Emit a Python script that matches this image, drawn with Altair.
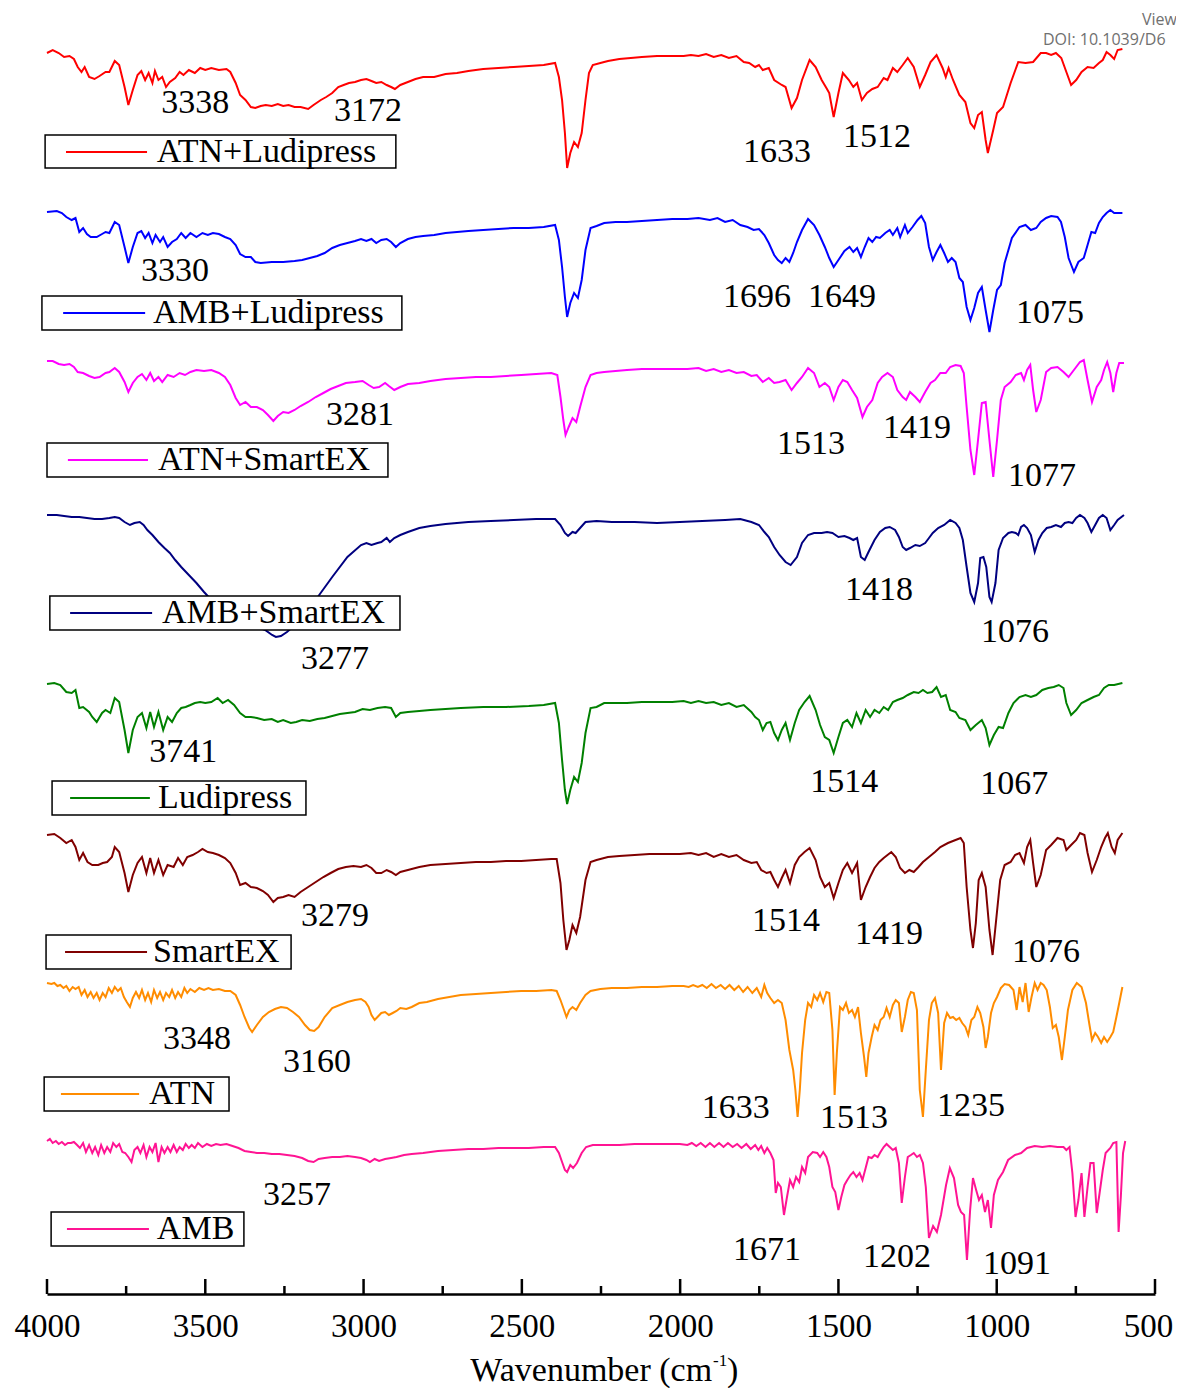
import altair as alt
import pandas as pd

# ---------------- data (wavenumber cm-1, stacked transmittance a.u.) ----------------
SERIES = ["ATN+Ludipress", "AMB+Ludipress", "ATN+SmartEX", "AMB+SmartEX",
          "Ludipress", "SmartEX", "ATN", "AMB"]
COLORS = ["#ff0000", "#0000ff", "#ff00ff", "#000080", "#008000", "#800000", "#ff8c00", "#ff1493"]

ATN_LUDI = [[4000,1241],[3982,1244],[3963,1241],[3946,1237],[3929,1238],[3915,1235],[3903,1227],[3891,1222],[3881,1227],[3867,1217],[3850,1215],[3834,1218],[3815,1222],[3803,1222],[3786,1233],[3772,1229],[3755,1207],[3743,1189],[3729,1204],[3714,1219],[3702,1223],[3690,1214],[3679,1221],[3667,1211],[3659,1223],[3648,1214],[3636,1217],[3624,1207],[3612,1212],[3595,1216],[3581,1222],[3569,1219],[3552,1224],[3533,1221],[3516,1226],[3500,1224],[3481,1226],[3457,1224],[3433,1225],[3421,1222],[3404,1211],[3390,1199],[3373,1194],[3356,1187],[3342,1186],[3325,1188],[3309,1189],[3290,1188],[3271,1190],[3254,1188],[3237,1189],[3218,1187],[3199,1187],[3175,1185],[3158,1189],[3135,1194],[3118,1197],[3099,1201],[3080,1207],[3063,1209],[3046,1211],[3027,1212],[3008,1214],[2991,1215],[2975,1213],[2960,1211],[2944,1212],[2927,1209],[2913,1207],[2901,1205],[2884,1209],[2860,1212],[2836,1215],[2812,1217],[2777,1217],[2741,1220],[2705,1221],[2669,1223],[2622,1225],[2574,1226],[2526,1227],[2478,1228],[2431,1229],[2395,1231],[2383,1217],[2373,1194],[2364,1161],[2357,1126],[2347,1141],[2335,1152],[2323,1147],[2311,1161],[2299,1194],[2288,1221],[2276,1229],[2252,1231],[2228,1233],[2192,1235],[2156,1236],[2121,1237],[2073,1238],[2025,1238],[1989,1238],[1966,1239],[1942,1238],[1918,1240],[1894,1237],[1870,1239],[1846,1236],[1822,1238],[1799,1232],[1782,1231],[1763,1227],[1751,1229],[1739,1224],[1720,1226],[1703,1214],[1679,1209],[1667,1207],[1648,1186],[1631,1196],[1615,1214],[1591,1234],[1572,1227],[1553,1214],[1538,1206],[1529,1201],[1515,1177],[1500,1201],[1486,1221],[1467,1214],[1453,1207],[1441,1211],[1426,1194],[1410,1201],[1393,1205],[1376,1207],[1357,1216],[1345,1214],[1328,1226],[1314,1222],[1297,1229],[1281,1236],[1262,1227],[1243,1207],[1226,1219],[1209,1232],[1190,1239],[1171,1226],[1161,1217],[1152,1226],[1138,1214],[1118,1199],[1099,1192],[1083,1171],[1071,1166],[1059,1179],[1047,1182],[1035,1154],[1028,1141],[1011,1164],[999,1181],[980,1187],[956,1211],[932,1232],[909,1231],[885,1232],[861,1241],[844,1241],[828,1239],[813,1241],[796,1236],[780,1222],[765,1209],[749,1214],[732,1222],[713,1227],[694,1226],[677,1231],[665,1234],[653,1242],[641,1239],[629,1235],[618,1244],[603,1245]]

AMB_LUDI = [[4000,1082],[3969,1083],[3953,1081],[3939,1077],[3922,1074],[3910,1076],[3898,1062],[3886,1066],[3874,1060],[3862,1057],[3843,1057],[3826,1060],[3815,1062],[3803,1061],[3786,1072],[3772,1069],[3755,1047],[3743,1031],[3729,1047],[3714,1061],[3702,1063],[3690,1056],[3679,1061],[3667,1051],[3657,1059],[3643,1052],[3633,1057],[3619,1047],[3605,1052],[3590,1055],[3576,1061],[3562,1056],[3547,1061],[3528,1057],[3509,1061],[3492,1059],[3476,1061],[3457,1060],[3438,1057],[3421,1055],[3404,1049],[3390,1040],[3373,1037],[3356,1037],[3342,1032],[3325,1031],[3290,1032],[3254,1032],[3218,1033],[3194,1034],[3170,1036],[3146,1038],[3123,1041],[3099,1046],[3075,1049],[3051,1051],[3027,1053],[3008,1055],[2991,1053],[2975,1055],[2960,1051],[2944,1054],[2927,1055],[2913,1052],[2898,1047],[2884,1051],[2860,1055],[2836,1057],[2812,1058],[2777,1059],[2741,1061],[2705,1062],[2669,1063],[2622,1064],[2574,1065],[2526,1066],[2478,1066],[2431,1067],[2395,1069],[2383,1054],[2373,1027],[2364,997],[2357,977],[2347,991],[2335,1001],[2323,996],[2311,1014],[2299,1044],[2283,1066],[2264,1068],[2240,1071],[2204,1072],[2168,1072],[2121,1073],[2073,1074],[2025,1075],[1977,1075],[1942,1076],[1906,1074],[1882,1076],[1858,1072],[1834,1074],[1810,1069],[1787,1067],[1768,1064],[1751,1065],[1734,1059],[1720,1051],[1703,1039],[1691,1034],[1679,1031],[1667,1036],[1655,1032],[1643,1041],[1631,1052],[1615,1064],[1596,1075],[1577,1069],[1560,1059],[1543,1047],[1529,1036],[1515,1027],[1500,1034],[1481,1043],[1465,1047],[1453,1042],[1441,1046],[1429,1037],[1417,1047],[1405,1056],[1393,1052],[1381,1057],[1369,1056],[1352,1061],[1338,1064],[1328,1059],[1314,1066],[1305,1057],[1290,1069],[1281,1061],[1266,1067],[1250,1074],[1238,1078],[1226,1071],[1214,1047],[1202,1034],[1190,1042],[1178,1049],[1166,1041],[1154,1032],[1142,1036],[1130,1032],[1118,1016],[1107,1012],[1095,987],[1083,974],[1071,986],[1059,1001],[1047,1007],[1035,984],[1023,962],[1011,984],[999,1004],[987,1009],[975,1031],[952,1056],[928,1067],[909,1069],[892,1064],[875,1066],[861,1072],[844,1076],[828,1078],[808,1077],[797,1072],[785,1057],[773,1036],[756,1022],[742,1032],[725,1036],[713,1049],[701,1062],[689,1061],[677,1071],[665,1077],[653,1081],[641,1084],[629,1081],[603,1081]]

ATN_SMART = [[4000,933],[3982,933],[3963,930],[3946,929],[3929,930],[3915,927],[3903,922],[3886,921],[3867,918],[3850,916],[3834,917],[3815,921],[3803,922],[3786,926],[3772,922],[3755,912],[3743,902],[3729,911],[3714,917],[3700,920],[3686,914],[3674,921],[3662,913],[3648,917],[3636,912],[3619,919],[3600,917],[3581,921],[3564,919],[3547,922],[3528,924],[3504,923],[3481,924],[3457,921],[3438,917],[3421,909],[3404,896],[3390,889],[3373,892],[3356,887],[3337,887],[3318,884],[3302,879],[3285,873],[3271,878],[3254,882],[3237,881],[3218,884],[3199,888],[3175,892],[3151,897],[3127,901],[3104,905],[3080,908],[3056,911],[3027,912],[3003,913],[2984,909],[2968,906],[2951,907],[2932,911],[2920,908],[2903,904],[2884,907],[2860,910],[2824,911],[2789,913],[2741,915],[2693,916],[2645,917],[2598,917],[2550,918],[2502,919],[2455,920],[2407,921],[2388,919],[2378,897],[2369,874],[2362,859],[2352,867],[2340,876],[2328,872],[2316,887],[2299,907],[2283,919],[2264,921],[2240,922],[2204,923],[2168,924],[2121,925],[2073,925],[2025,925],[1977,925],[1942,926],[1918,923],[1894,925],[1870,922],[1846,924],[1822,921],[1799,922],[1775,918],[1758,919],[1739,912],[1720,916],[1703,911],[1686,912],[1667,914],[1648,904],[1631,911],[1615,917],[1596,926],[1577,921],[1560,907],[1543,911],[1529,907],[1515,894],[1500,907],[1486,914],[1472,912],[1457,904],[1441,896],[1424,877],[1410,887],[1393,894],[1376,911],[1362,917],[1345,921],[1328,917],[1314,904],[1297,897],[1286,894],[1274,902],[1257,897],[1243,892],[1226,902],[1209,911],[1195,914],[1178,921],[1161,921],[1147,927],[1130,929],[1114,928],[1104,921],[1095,887],[1083,844],[1071,819],[1059,854],[1047,891],[1035,892],[1023,854],[1011,817],[999,854],[987,894],[975,907],[956,912],[940,919],[923,921],[914,914],[904,924],[894,929],[885,904],[875,882],[861,894],[844,922],[828,926],[808,927],[789,922],[773,917],[761,922],[749,927],[737,932],[725,934],[713,914],[699,892],[684,907],[670,914],[661,924],[651,932],[641,921],[632,902],[622,921],[613,931],[598,931]]

AMB_SMART = [[4000,779],[3969,779],[3946,778],[3922,777],[3898,777],[3874,776],[3850,775],[3826,775],[3803,776],[3786,777],[3772,776],[3755,772],[3738,769],[3724,771],[3707,772],[3695,769],[3683,764],[3667,759],[3648,752],[3629,746],[3612,741],[3595,734],[3576,727],[3552,719],[3528,711],[3504,702],[3481,694],[3422,679],[3359,670],[3311,664],[3289,659],[3277,657],[3261,658],[3242,662],[3217,669],[3185,682],[3147,696],[3099,717],[3051,737],[3008,749],[2991,751],[2975,749],[2956,751],[2944,752],[2927,756],[2917,752],[2903,756],[2884,759],[2860,762],[2824,766],[2789,768],[2741,770],[2669,772],[2598,773],[2526,774],[2455,775],[2395,775],[2378,769],[2364,761],[2354,758],[2340,762],[2330,761],[2316,766],[2299,772],[2264,773],[2216,772],[2144,772],[2073,771],[2001,772],[1930,773],[1858,774],[1810,775],[1775,772],[1751,769],[1734,762],[1720,757],[1703,747],[1686,739],[1667,732],[1651,729],[1631,737],[1615,751],[1596,759],[1577,761],[1553,761],[1536,762],[1519,761],[1500,757],[1481,758],[1465,756],[1453,754],[1441,756],[1429,737],[1417,734],[1405,742],[1386,754],[1369,762],[1352,766],[1338,767],[1321,764],[1309,757],[1297,747],[1286,744],[1274,746],[1257,749],[1243,748],[1226,751],[1214,756],[1202,761],[1185,766],[1166,769],[1147,774],[1130,771],[1118,766],[1107,754],[1095,727],[1083,701],[1071,692],[1059,711],[1052,736],[1042,737],[1033,727],[1023,697],[1016,692],[1004,711],[994,744],[980,756],[963,761],[952,762],[940,761],[932,759],[923,767],[914,769],[904,766],[892,759],[880,742],[868,754],[856,761],[842,766],[828,767],[813,769],[797,767],[785,771],[773,772],[761,771],[749,776],[737,779],[723,776],[713,771],[701,762],[689,769],[677,776],[665,779],[653,776],[641,764],[629,769],[618,774],[598,779]]

LUDIPRESS = [[4000,610],[3977,611],[3958,609],[3939,602],[3922,601],[3910,604],[3898,586],[3886,587],[3867,582],[3857,577],[3843,572],[3826,581],[3815,584],[3800,581],[3786,596],[3772,592],[3755,564],[3743,541],[3729,564],[3714,577],[3700,581],[3686,566],[3674,582],[3662,567],[3648,582],[3633,564],[3619,577],[3605,572],[3590,581],[3576,586],[3562,587],[3547,589],[3533,591],[3516,592],[3500,591],[3481,592],[3461,596],[3445,591],[3428,594],[3409,589],[3390,581],[3373,577],[3356,577],[3337,576],[3314,574],[3290,575],[3271,572],[3254,574],[3230,571],[3213,572],[3194,574],[3170,573],[3146,575],[3123,576],[3099,578],[3075,580],[3051,581],[3027,582],[3003,585],[2980,584],[2956,586],[2932,587],[2913,586],[2898,577],[2884,581],[2860,582],[2824,583],[2789,584],[2741,585],[2693,586],[2622,587],[2550,587],[2478,588],[2431,589],[2395,591],[2383,571],[2373,534],[2364,504],[2357,490],[2347,504],[2335,517],[2323,512],[2311,531],[2299,561],[2283,586],[2264,587],[2240,591],[2204,591],[2168,591],[2121,592],[2073,592],[2025,592],[1989,593],[1966,591],[1942,593],[1918,591],[1894,592],[1870,589],[1846,591],[1822,587],[1799,589],[1775,582],[1763,577],[1751,574],[1739,564],[1727,571],[1715,572],[1703,561],[1691,554],[1679,564],[1667,571],[1653,554],[1638,571],[1624,584],[1607,592],[1591,598],[1572,584],[1558,569],[1543,557],[1529,554],[1515,541],[1500,557],[1486,571],[1472,574],[1457,567],[1443,581],[1429,571],[1414,584],[1400,577],[1386,584],[1371,581],[1357,587],[1343,584],[1328,592],[1314,594],[1297,596],[1281,599],[1262,602],[1247,601],[1233,604],[1219,601],[1204,602],[1190,607],[1176,597],[1161,599],[1147,584],[1130,582],[1118,576],[1099,574],[1083,564],[1066,569],[1047,574],[1035,566],[1023,549],[1009,559],[994,567],[980,566],[963,581],[947,591],[928,597],[909,599],[892,597],[875,599],[856,604],[837,606],[820,607],[804,609],[789,606],[780,591],[765,579],[749,584],[732,591],[713,594],[694,597],[677,599],[661,606],[646,609],[629,609],[603,611]]

SMARTEX = [[4000,459],[3977,460],[3958,456],[3939,451],[3922,454],[3910,447],[3898,434],[3886,441],[3872,432],[3857,429],[3838,429],[3824,431],[3810,432],[3795,437],[3786,447],[3772,442],[3755,421],[3743,402],[3729,419],[3714,431],[3700,437],[3686,421],[3674,436],[3662,421],[3648,434],[3633,419],[3619,429],[3600,427],[3586,436],[3571,429],[3557,437],[3540,439],[3523,442],[3509,445],[3492,442],[3476,441],[3457,439],[3438,436],[3421,431],[3404,421],[3390,409],[3373,411],[3356,407],[3337,406],[3318,403],[3302,399],[3285,392],[3271,396],[3254,397],[3237,399],[3218,397],[3199,402],[3175,407],[3151,412],[3127,417],[3104,421],[3080,425],[3056,427],[3032,428],[3008,427],[2991,429],[2975,426],[2960,421],[2944,421],[2927,424],[2913,422],[2898,419],[2884,422],[2860,424],[2824,427],[2789,429],[2741,430],[2693,431],[2645,432],[2598,432],[2550,433],[2502,433],[2455,434],[2407,435],[2390,435],[2378,411],[2369,374],[2359,344],[2350,354],[2340,369],[2328,361],[2316,377],[2299,414],[2283,432],[2264,434],[2228,437],[2192,438],[2144,439],[2097,440],[2049,440],[2001,440],[1966,441],[1942,439],[1918,441],[1894,437],[1870,440],[1846,437],[1822,439],[1799,434],[1775,431],[1758,432],[1744,424],[1727,421],[1715,422],[1703,414],[1691,407],[1679,416],[1667,424],[1653,411],[1638,429],[1624,437],[1607,442],[1591,446],[1572,434],[1558,417],[1543,407],[1529,411],[1515,396],[1500,411],[1486,424],[1472,431],[1457,421],[1441,431],[1429,394],[1414,407],[1400,417],[1386,426],[1371,432],[1357,436],[1345,439],[1333,442],[1319,437],[1305,426],[1290,421],[1276,424],[1262,422],[1247,427],[1233,432],[1214,437],[1195,442],[1178,447],[1154,451],[1130,454],[1114,456],[1104,451],[1095,407],[1083,364],[1075,346],[1066,371],[1057,414],[1047,421],[1035,407],[1023,364],[1013,339],[1004,367],[989,414],[975,429],[956,432],[942,439],[928,441],[914,431],[904,447],[894,454],[885,431],[875,407],[861,419],[844,444],[828,449],[808,456],[789,454],[780,444],[765,449],[749,454],[737,461],[723,459],[713,441],[699,422],[684,434],[670,447],[658,456],[649,461],[637,447],[627,441],[618,454],[603,461]]

ATN = [[4000,311],[3986,310],[3977,311],[3967,308],[3958,309],[3948,306],[3939,308],[3929,303],[3919,307],[3910,305],[3900,307],[3891,299],[3881,304],[3872,297],[3862,302],[3853,296],[3843,301],[3834,294],[3824,301],[3815,297],[3805,306],[3795,301],[3786,307],[3776,303],[3767,306],[3757,297],[3748,292],[3738,287],[3729,296],[3719,302],[3709,296],[3700,304],[3690,294],[3681,301],[3671,292],[3662,304],[3652,296],[3643,302],[3633,294],[3624,301],[3614,297],[3605,304],[3595,296],[3586,302],[3576,297],[3566,306],[3557,301],[3547,305],[3533,302],[3519,306],[3504,304],[3490,306],[3476,304],[3457,305],[3438,303],[3421,303],[3404,299],[3390,289],[3376,277],[3361,266],[3352,262],[3337,269],[3318,277],[3299,282],[3280,285],[3261,287],[3242,286],[3223,282],[3204,277],[3185,269],[3170,264],[3156,263],[3142,267],[3123,277],[3099,286],[3075,289],[3051,292],[3027,294],[3008,295],[2994,292],[2984,287],[2975,279],[2965,274],[2956,277],[2944,281],[2932,282],[2920,279],[2908,281],[2896,283],[2884,286],[2865,285],[2848,287],[2824,291],[2800,292],[2765,295],[2729,297],[2693,299],[2645,300],[2598,301],[2550,302],[2502,303],[2455,303],[2407,304],[2390,303],[2378,294],[2369,286],[2359,277],[2350,284],[2340,287],[2328,284],[2316,291],[2299,299],[2283,303],[2252,305],[2216,306],[2168,306],[2121,307],[2073,307],[2025,308],[1989,308],[1973,307],[1959,309],[1944,307],[1930,309],[1916,306],[1901,310],[1887,306],[1872,309],[1858,305],[1844,309],[1829,304],[1815,308],[1801,302],[1787,307],[1772,301],[1758,306],[1744,297],[1734,309],[1725,301],[1715,296],[1703,291],[1691,294],[1679,291],[1667,274],[1655,244],[1643,224],[1636,204],[1629,177],[1622,204],[1615,241],[1605,274],[1596,291],[1586,287],[1577,299],[1567,294],[1558,301],[1548,292],[1538,302],[1529,301],[1519,264],[1512,199],[1505,241],[1495,287],[1486,284],[1476,291],[1467,281],[1457,284],[1448,277],[1438,287],[1429,261],[1419,237],[1412,217],[1405,241],[1395,257],[1386,269],[1376,264],[1367,274],[1357,277],[1348,286],[1338,277],[1328,289],[1319,294],[1309,291],[1300,262],[1290,277],[1281,294],[1271,302],[1262,301],[1252,284],[1243,204],[1233,177],[1224,224],[1214,274],[1205,291],[1195,296],[1185,281],[1176,224],[1166,271],[1157,281],[1147,276],[1138,277],[1128,274],[1118,276],[1109,271],[1099,267],[1090,259],[1080,274],[1071,277],[1061,287],[1052,281],[1042,267],[1035,246],[1028,257],[1018,281],[1009,291],[999,297],[987,306],[975,310],[961,309],[947,304],[937,284],[928,307],[918,292],[909,311],[899,282],[890,297],[880,311],[871,304],[861,311],[852,309],[842,304],[832,287],[823,266],[813,269],[804,257],[794,234],[785,257],[775,284],[761,304],[747,311],[732,307],[718,291],[708,271],[699,254],[689,261],[680,257],[670,251],[661,257],[651,252],[641,257],[632,262],[622,277],[613,291],[603,307]]

AMB = [[4000,153],[3991,155],[3982,151],[3972,153],[3963,150],[3953,152],[3943,149],[3934,151],[3924,151],[3915,152],[3905,149],[3896,146],[3886,151],[3877,142],[3867,149],[3857,141],[3848,147],[3838,139],[3829,149],[3819,141],[3810,147],[3800,142],[3791,151],[3781,147],[3772,150],[3762,142],[3753,141],[3743,137],[3733,132],[3724,144],[3714,147],[3705,141],[3695,149],[3686,137],[3676,147],[3667,142],[3657,151],[3648,132],[3638,147],[3629,141],[3619,147],[3610,142],[3600,149],[3590,142],[3581,147],[3571,144],[3562,150],[3552,146],[3543,149],[3533,146],[3523,151],[3509,147],[3495,150],[3481,148],[3466,150],[3452,149],[3433,150],[3414,148],[3395,146],[3376,143],[3356,142],[3337,141],[3314,141],[3290,140],[3266,140],[3242,139],[3218,138],[3194,136],[3175,133],[3158,132],[3142,135],[3123,136],[3099,137],[3075,137],[3051,138],[3027,137],[3008,136],[2991,134],[2980,132],[2965,135],[2951,133],[2932,135],[2913,136],[2896,137],[2872,139],[2848,140],[2812,141],[2765,143],[2717,144],[2669,145],[2622,145],[2574,146],[2526,146],[2478,146],[2431,147],[2395,147],[2383,141],[2373,132],[2364,124],[2357,122],[2347,129],[2338,126],[2326,131],[2311,141],[2297,147],[2276,149],[2240,149],[2192,149],[2144,150],[2097,150],[2049,150],[2001,150],[1977,149],[1963,151],[1949,148],[1935,151],[1920,147],[1906,151],[1892,147],[1877,151],[1863,147],[1849,151],[1834,147],[1820,150],[1806,146],[1791,150],[1777,145],[1763,149],[1753,144],[1744,148],[1734,141],[1725,146],[1715,141],[1705,134],[1698,101],[1691,111],[1682,107],[1672,79],[1663,96],[1653,114],[1643,107],[1634,117],[1624,112],[1615,127],[1605,121],[1596,137],[1581,142],[1567,141],[1558,137],[1548,142],[1538,137],[1529,127],[1519,107],[1510,102],[1500,84],[1491,97],[1481,109],[1472,114],[1462,119],[1453,122],[1443,117],[1433,121],[1424,114],[1414,126],[1405,137],[1395,136],[1386,139],[1376,137],[1367,142],[1357,147],[1348,150],[1338,147],[1328,144],[1319,146],[1309,131],[1300,91],[1290,117],[1281,137],[1271,139],[1262,141],[1252,137],[1243,139],[1233,131],[1224,107],[1214,56],[1201,68],[1189,62],[1176,79],[1160,109],[1148,126],[1135,116],[1122,89],[1113,82],[1103,79],[1094,34],[1084,84],[1075,116],[1065,104],[1056,94],[1047,99],[1037,82],[1028,94],[1018,66],[1009,99],[996,114],[980,122],[964,134],[942,139],[923,141],[904,146],[880,148],[856,147],[832,148],[808,147],[789,147],[780,144],[770,147],[761,121],[751,77],[742,94],[732,121],[723,77],[713,107],[704,131],[694,131],[684,81],[675,101],[665,124],[656,141],[641,146],[632,151],[622,152],[615,62],[608,97],[601,141],[594,153]]

SPECTRA = [ATN_LUDI, AMB_LUDI, ATN_SMART, AMB_SMART, LUDIPRESS, SMARTEX, ATN, AMB]

# peak labels: text, wavenumber anchor, level
PEAK_TEXT = ["3338", "3172", "1633", "1512",
             "3330", "1696", "1649", "1075",
             "3281", "1513", "1419", "1077",
             "3277", "1418", "1076",
             "3741", "1514", "1067",
             "3279", "1514", "1419", "1076",
             "3348", "3160", "1633", "1513", "1235",
             "3257", "1671", "1202", "1091"]
PEAK_WN = [3532, 2986, 1694, 1378,
           3596, 1757, 1489, 832,
           3011, 1587, 1252, 857,
           3090, 1372, 942,
           3570, 1482, 945,
           3090, 1666, 1340, 844,
           3526, 3147, 1824, 1451, 1081,
           3210, 1726, 1315, 936]
PEAK_T = [1191, 1183, 1142, 1157,
          1023, 997, 997, 981,
          879, 850, 866, 818,
          635, 704, 662,
          542, 512, 510,
          378, 373, 360, 342,
          255, 232, 186, 176, 188,
          99, 44, 37, 30]

# legend boxes (one per spectrum)
BOX_WN1 = [4006, 4016, 4000, 3991, 3984, 4003, 4009, 3987]
BOX_WN2 = [2898, 2879, 2923, 2885, 3182, 3229, 3425, 3378]
BOX_T1 = [1159, 998, 851, 698, 513, 359, 217, 82]
BOX_T2 = [1126, 964, 817, 664, 479, 325, 183, 48]
KEY_WN1 = [3940, 3949, 3934, 3927, 3927, 3943, 3956, 3937]
KEY_WN2 = [3684, 3690, 3681, 3668, 3675, 3684, 3709, 3678]
KEY_T = [1142, 981, 834, 681, 496, 342, 200, 65]
KEY_TEXT_WN = [3653, 3665, 3649, 3637, 3649, 3665, 3678, 3653]

TICK_WN = [4000, 3750, 3500, 3250, 3000, 2750, 2500, 2250, 2000, 1750, 1500, 1250, 1000, 750, 500]
TICK_LEN = [15, 8, 15, 8, 15, 8, 15, 8, 15, 8, 15, 8, 15, 8, 15]
LABEL_WN = [4000, 3500, 3000, 2500, 2000, 1500, 1000, 500]

# ---------------- tables ----------------
rows = []
for name, spec in zip(SERIES, SPECTRA):
    for i, (w, t) in enumerate(spec):
        rows.append({"series": name, "wn": w, "T": t, "idx": i})
spec_df = pd.DataFrame(rows)

box_df = pd.DataFrame({"series": SERIES, "wn": BOX_WN1, "wn2": BOX_WN2, "T": BOX_T1, "T2": BOX_T2,
                       "kwn": KEY_WN1, "kwn2": KEY_WN2, "kT": KEY_T, "twn": KEY_TEXT_WN})
peak_df = pd.DataFrame({"text": PEAK_TEXT, "wn": PEAK_WN, "T": PEAK_T})
tick_df = pd.DataFrame({"wn": TICK_WN, "T": [0] * len(TICK_WN), "T2": TICK_LEN})

FONT = "Liberation Serif"
xscale = alt.Scale(domain=[500, 4000], reverse=True, nice=False, zero=False)
yscale = alt.Scale(domain=[0, 1254], nice=False, zero=False)
xaxis = alt.Axis(values=LABEL_WN, format="d", labelFont=FONT, labelFontSize=33, labelColor="black",
                 ticks=False, domainColor="black", domainWidth=2.5, grid=False, title=None,
                 labelPadding=16, labelFlush=False, labelOverlap=False,
                 labelOffset={"condition": {"test": "datum.value === 500", "value": -7}, "value": 0})
cscale = alt.Scale(domain=SERIES, range=COLORS)


def X(field="wn"):
    return alt.X(f"{field}:Q", scale=xscale, axis=xaxis)


def Y(field="T"):
    return alt.Y(f"{field}:Q", scale=yscale, axis=None)


lines = alt.Chart(spec_df).mark_line(strokeWidth=2).encode(
    x=X(), y=Y(), color=alt.Color("series:N", scale=cscale, legend=None),
    detail="series:N", order="idx:Q")

boxes = alt.Chart(box_df).mark_rect(fill="white", stroke="black", strokeWidth=1.5).encode(
    x=X(), x2="wn2:Q", y=Y(), y2="T2:Q")

keys = alt.Chart(box_df).mark_rule(strokeWidth=2).encode(
    x=X("kwn"), x2="kwn2:Q", y=Y("kT"),
    color=alt.Color("series:N", scale=cscale, legend=None))

key_text = alt.Chart(box_df).mark_text(align="left", baseline="middle", font=FONT,
                                       fontSize=34, color="black").encode(
    x=X("twn"), y=Y("kT"), text="series:N")

peaks = alt.Chart(peak_df).mark_text(align="center", baseline="middle", font=FONT,
                                     fontSize=34, color="black").encode(
    x=X(), y=Y(), text="text:N")

ticks = alt.Chart(tick_df).mark_rule(color="black", strokeWidth=2.5).encode(
    x=X(), y=Y(), y2="T2:Q")

title_df = pd.DataFrame({"wn": [1899], "T": [-77], "text": ["Wavenumber (cm"]})
sup_df = pd.DataFrame({"wn": [1896], "T": [-67], "text": ["-1"]})
close_df = pd.DataFrame({"wn": [1852], "T": [-77], "text": [")"]})
title1 = alt.Chart(title_df).mark_text(align="right", baseline="middle", font=FONT, fontSize=34,
                                       color="black").encode(x=X(), y=Y(), text="text:N")
title2 = alt.Chart(sup_df).mark_text(align="left", baseline="middle", font=FONT, fontSize=17,
                                     color="black").encode(x=X(), y=Y(), text="text:N")
title3 = alt.Chart(close_df).mark_text(align="left", baseline="middle", font=FONT, fontSize=34,
                                       color="black").encode(x=X(), y=Y(), text="text:N")

wm_df = pd.DataFrame({"wn": [541, 854], "T": [1274, 1254], "text": ["View", "DOI: 10.1039/D6"]})
watermark = alt.Chart(wm_df).mark_text(align="left", baseline="middle", font="Open Sans",
                                       fontSize=16, color="#707070").encode(x=X(), y=Y(), text="text:N")

chart = alt.layer(lines, boxes, keys, key_text, peaks, ticks, title1, title2, title3, watermark).properties(
    width=1108, height=1254,
    autosize=alt.AutoSizeParams(type="none"),
    padding={"left": 39, "top": 32, "right": 21, "bottom": 94},
    background="white",
).configure_view(stroke=None)

chart.save("out.html", embed_options={"renderer": "svg", "actions": False})
